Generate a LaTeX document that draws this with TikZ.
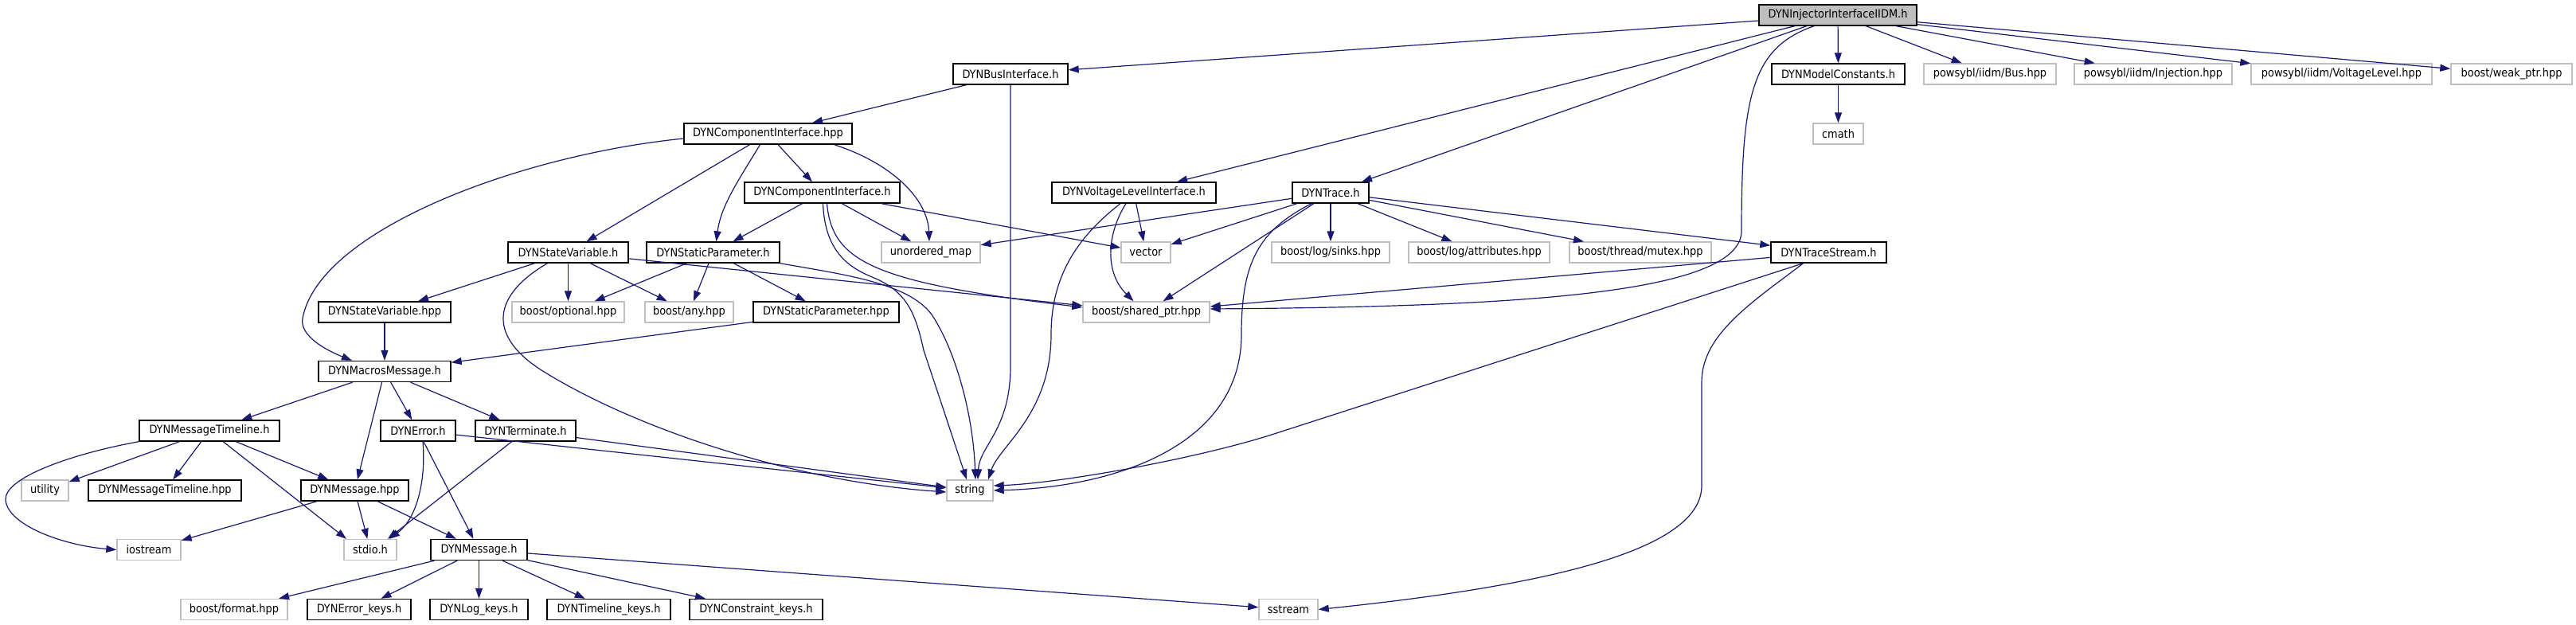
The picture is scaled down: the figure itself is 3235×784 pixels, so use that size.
\documentclass[tikz,border=0pt]{standalone}
\usepackage{fontspec}
\setmainfont{DejaVu Sans Condensed}
\usetikzlibrary{arrows.meta}
\definecolor{edgeblue}{HTML}{191970}
\definecolor{sysgray}{HTML}{BFBFBF}
\tikzset{
  file/.style={draw=black, line width=1.4pt, fill=white, inner sep=0pt,
    minimum height=26pt, font=\fontsize{14.4}{16}\selectfont},
  sysfile/.style={file, draw=sysgray},
  dep/.style={draw=edgeblue, line width=1.2pt, -{Triangle[length=13pt,width=9pt]}},
}
\begin{document}
\begin{tikzpicture}[x=1pt, y=-1pt]
  \useasboundingbox (0,0) rectangle (3235,784);
  % row 0 and 1
  \node[file, fill=sysgray, minimum width=198pt] (inj) at (2308,19) {DYNInjectorInterfaceIIDM.h};
  \node[file, minimum width=144pt] (bus) at (1269,93) {DYNBusInterface.h};
  \node[file, minimum width=167pt] (modc) at (2308.5,93) {DYNModelConstants.h};
  \node[sysfile, minimum width=166pt] (pbus) at (2499,93) {powsybl/iidm/Bus.hpp};
  \node[sysfile, minimum width=198pt] (pinj) at (2704,93) {powsybl/iidm/Injection.hpp};
  \node[sysfile, minimum width=227pt] (pvl) at (2940.5,93) {powsybl/iidm/VoltageLevel.hpp};
  \node[sysfile, minimum width=152pt] (wptr) at (3154,93) {boost/weak\_ptr.hpp};
  % row 2 and 3
  \node[file, minimum width=211pt] (cihpp) at (964.5,168) {DYNComponentInterface.hpp};
  \node[sysfile, minimum width=63pt] (cmath) at (2308.5,168) {cmath};
  \node[file, minimum width=195pt] (cih) at (1032.5,242) {DYNComponentInterface.h};
  \node[file, minimum width=206pt] (vli) at (1424,242) {DYNVoltageLevelInterface.h};
  \node[file, minimum width=96pt] (trace) at (1671,242) {DYNTrace.h};
  % row 4
  \node[file, minimum width=151pt] (svh) at (713.5,317) {DYNStateVariable.h};
  \node[file, minimum width=167pt] (sph) at (895.5,317) {DYNStaticParameter.h};
  \node[sysfile, minimum width=124pt] (umap) at (1169,317) {unordered\_map};
  \node[sysfile, minimum width=62pt] (vector) at (1439,317) {vector};
  \node[sysfile, minimum width=148pt] (sinks) at (1671,317) {boost/log/sinks.hpp};
  \node[sysfile, minimum width=177pt] (attr) at (1857.5,317) {boost/log/attributes.hpp};
  \node[sysfile, minimum width=178pt] (mutex) at (2060,317) {boost/thread/mutex.hpp};
  \node[file, minimum width=145pt] (tstream) at (2296.5,317) {DYNTraceStream.h};
  % row 5 and 6
  \node[file, minimum width=166pt] (svhpp) at (483,392) {DYNStateVariable.hpp};
  \node[sysfile, minimum width=141pt] (opt) at (713.5,392) {boost/optional.hpp};
  \node[sysfile, minimum width=111pt] (any) at (865.5,392) {boost/any.hpp};
  \node[file, minimum width=183pt] (sphpp) at (1037.5,392) {DYNStaticParameter.hpp};
  \node[sysfile, minimum width=159pt] (sptr) at (1439.5,392) {boost/shared\_ptr.hpp};
  \node[file, minimum width=166pt] (macros) at (483,466.5) {DYNMacrosMessage.h};
  % row 7 and 8
  \node[file, minimum width=176pt] (mtl) at (263,541) {DYNMessageTimeline.h};
  \node[file, minimum width=94pt] (err) at (525,541) {DYNError.h};
  \node[file, minimum width=126pt] (term) at (660,541) {DYNTerminate.h};
  \node[sysfile, minimum width=59pt] (utility) at (56.5,616) {utility};
  \node[file, minimum width=192pt] (mtlhpp) at (207,616) {DYNMessageTimeline.hpp};
  \node[file, minimum width=135pt] (msghpp) at (445.5,616) {DYNMessage.hpp};
  \node[sysfile, minimum width=58pt] (string) at (1218,616) {string};
  % row 9 and 10
  \node[sysfile, minimum width=80pt] (iostream) at (187,690.5) {iostream};
  \node[sysfile, minimum width=66pt] (stdio) at (465,690.5) {stdio.h};
  \node[file, minimum width=121pt] (msgh) at (601.5,690.5) {DYNMessage.h};
  \node[sysfile, minimum width=134pt] (format) at (294,765.5) {boost/format.hpp};
  \node[file, minimum width=130pt] (errk) at (451,765.5) {DYNError\_keys.h};
  \node[file, minimum width=123pt] (logk) at (601.5,765.5) {DYNLog\_keys.h};
  \node[file, minimum width=155pt] (tlk) at (764.5,765.5) {DYNTimeline\_keys.h};
  \node[file, minimum width=167pt] (ck) at (949.5,765.5) {DYNConstraint\_keys.h};
  \node[sysfile, minimum width=74pt] (sstream) at (1618,765.5) {sstream};

  % includes of the injector header
  \draw[dep] (inj) -- (bus);
  \draw[dep] (inj) -- (vli);
  \draw[dep] (inj) -- (trace);
  \draw[dep] (inj) -- (modc);
  \draw[dep] (inj) -- (pbus);
  \draw[dep] (inj) -- (pinj);
  \draw[dep] (inj) -- (pvl);
  \draw[dep] (inj) -- (wptr);
  \draw[dep] ([xshift=-30pt]inj.south) .. controls (2200,60) and (2187,120) .. (2187,290)
    .. controls (2187,370) and (1900,385) .. ([yshift=4pt]sptr.east);
  \draw[dep] (bus) -- (cihpp);
  \draw[dep] (bus) -- (1269,460) .. controls (1269,540) and (1230,560) .. ([xshift=10pt]string.north);
  \draw[dep] (modc) -- (cmath);

  % component interface
  \draw[dep] ([yshift=-6pt]cihpp.west) .. controls (650,195) and (400,290) .. (380,400)
    .. controls (376,422) and (410,440) .. ([xshift=-41pt]macros.north);
  \draw[dep] (cihpp) -- (svh);
  \draw[dep] ([xshift=-10pt]cihpp.south) .. controls (925,230) and (905,260) .. ([xshift=4pt]sph.north);
  \draw[dep] (cihpp) -- (cih);
  \draw[dep] ([xshift=83pt]cihpp.south) .. controls (1120,205) and (1165,250) .. ([xshift=-2pt]umap.north);
  \draw[dep] (cih) -- (sph);
  \draw[dep] (cih) -- (umap);
  \draw[dep] (cih) -- (vector);
  \draw[dep] ([xshift=6pt]cih.south) .. controls (1045,330) and (1100,355) .. ([yshift=6pt]sptr.west);
  \draw[dep] ([xshift=1pt]cih.south) .. controls (1036,320) and (1070,338) .. (1100,350)
    .. controls (1140,368) and (1150,395) .. (1160,440) -- ([xshift=-4pt]string.north);

  % state variable and static parameter
  \draw[dep] (svh) -- (svhpp);
  \draw[dep] (svh) -- (opt);
  \draw[dep] (svh) -- (any);
  \draw[dep] (svh) -- (sptr);
  \draw[dep] ([xshift=-26pt]svh.south) .. controls (620,370) and (610,420) .. (680,465)
    .. controls (800,540) and (1000,605) .. ([yshift=-2pt]string.west);
  \draw[dep] (sph) -- (opt);
  \draw[dep] (sph) -- (any);
  \draw[dep] (sph) -- (sphpp);
  \draw[dep] (sph.south east) .. controls (1060,345) and (1140,355) .. (1170,395)
    .. controls (1200,440) and (1222,520) .. ([xshift=7pt]string.north);
  \draw[dep] (svhpp) -- (macros);
  \draw[dep] (sphpp) -- (macros);

  % messages
  \draw[dep] (macros) -- (mtl);
  \draw[dep] (macros) -- (msghpp);
  \draw[dep] (macros) -- (err);
  \draw[dep] (macros) -- (term);
  \draw[dep] (mtl.south west) .. controls (90,570) and (5,600) .. (7,628)
    .. controls (10,660) and (80,685) .. (iostream.west);
  \draw[dep] (mtl) -- (utility);
  \draw[dep] (mtl) -- (mtlhpp);
  \draw[dep] (mtl) -- (msghpp);
  \draw[dep] (mtl) -- ([xshift=-30pt]stdio.north);
  \draw[dep] ([xshift=6pt]err.south) .. controls (535,600) and (525,650) .. ([xshift=24pt]stdio.north);
  \draw[dep] (err) -- (msgh);
  \draw[dep] (err) -- (string);
  \draw[dep] (term) -- ([xshift=22pt]stdio.north);
  \draw[dep] (term) -- (string);
  \draw[dep] (msghpp) -- (iostream);
  \draw[dep] (msghpp) -- (stdio);
  \draw[dep] (msghpp) -- (msgh);
  \draw[dep] (msgh) -- (format);
  \draw[dep] (msgh) -- (errk);
  \draw[dep] (msgh) -- (logk);
  \draw[dep] (msgh) -- (tlk);
  \draw[dep] (msgh) -- (ck);
  \draw[dep] (msgh) -- (sstream);

  % voltage level and trace
  \draw[dep] (vli) -- (vector);
  \draw[dep] ([xshift=-10pt]vli.south) .. controls (1392,290) and (1385,340) .. ([xshift=-16pt]sptr.north);
  \draw[dep] ([xshift=-17pt]vli.south) .. controls (1350,300) and (1320,350) .. (1320,420)
    .. controls (1320,520) and (1255,560) .. ([xshift=23pt]string.north);
  \draw[dep] (trace) -- (umap);
  \draw[dep] (trace) -- (vector);
  \draw[dep] (trace) -- (sptr);
  \draw[dep] ([xshift=-24pt]trace.south) .. controls (1580,290) and (1559,330) .. (1559,420)
    .. controls (1559,560) and (1400,612) .. (string.east);
  \draw[dep] (trace) -- (sinks);
  \draw[dep] (trace) -- (attr);
  \draw[dep] (trace) -- (mutex);
  \draw[dep] (trace) -- (tstream);
  \draw[dep] (tstream) -- (sptr);
  \draw[dep] ([xshift=-32pt]tstream.south) -- (1600,545)
    .. controls (1500,577) and (1330,607) .. ([yshift=6pt]string.east);
  \draw[dep] ([xshift=-32pt]tstream.south) .. controls (2200,380) and (2137,420) .. (2137,480)
    -- (2137,610) .. controls (2137,690) and (1950,735) .. (sstream.east);
\end{tikzpicture}
\end{document}
